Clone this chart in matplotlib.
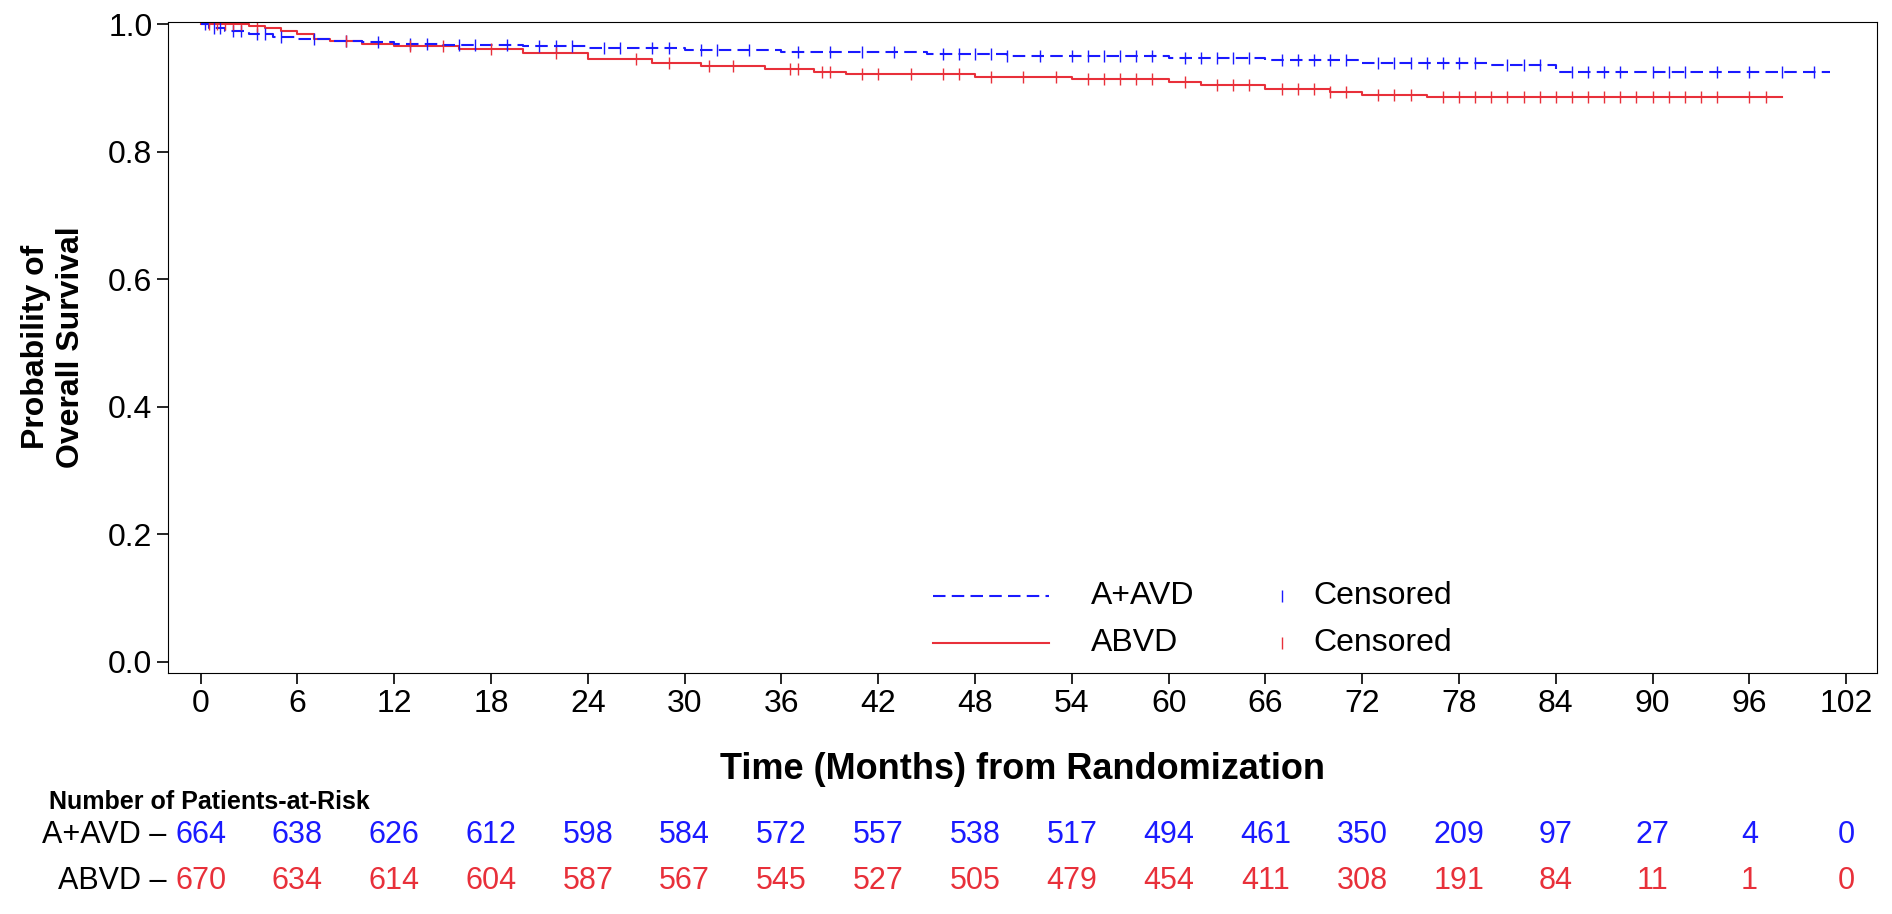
import matplotlib
matplotlib.use("Agg")
import matplotlib.pyplot as plt
from matplotlib.transforms import blended_transform_factory

plt.rcParams["font.family"] = ["Liberation Sans", "DejaVu Sans"]

BLUE = "#1a1aff"
RED = "#e8303a"

# step curves: event times (months) and survival after each step
aavd_t = [0, 0.5, 1.5, 3, 4.5, 6, 8, 10, 12, 15, 20, 24, 30, 36, 45, 50, 60, 66, 72, 80, 84, 101]
aavd_s = [1.0, 0.995, 0.99, 0.985, 0.98, 0.977, 0.974, 0.972, 0.970, 0.968, 0.966, 0.963, 0.960, 0.957, 0.954, 0.951, 0.948, 0.945, 0.940, 0.936, 0.925, 0.925]
abvd_t = [0, 3, 4, 5, 6, 7, 8, 10, 12, 16, 20, 24, 28, 31, 35, 38, 40, 48, 54, 60, 62, 66, 70, 72, 76, 98]
abvd_s = [1.0, 0.998, 0.995, 0.99, 0.985, 0.978, 0.974, 0.970, 0.966, 0.962, 0.955, 0.946, 0.940, 0.935, 0.930, 0.926, 0.922, 0.918, 0.914, 0.910, 0.905, 0.898, 0.894, 0.890, 0.886, 0.886]

aavd_cens = [0.3, 0.8, 1.2, 2, 2.5, 3.5, 4, 5, 7, 9, 11, 13, 14, 16, 17, 19, 21, 22, 23, 25, 26, 28, 29, 31, 32, 34, 37, 39, 41, 43, 46,
             47, 48, 49, 50, 52, 54, 55, 56, 57, 58, 59, 61, 62, 63, 64, 65, 67, 68, 69, 70, 71, 73, 74, 75, 76, 77, 78, 79, 81, 82,
             83, 85, 86, 87, 88, 90, 91, 92, 94, 96, 98, 100]
abvd_cens = [0.5, 1, 1.5, 2, 2.5, 3.5, 9, 13, 15, 18, 22, 27, 29, 31.5, 33, 36.5, 37, 38.5, 39, 41, 42, 44, 46, 47, 49, 51, 53, 55, 56,
             57, 58, 59, 61, 63, 64, 65, 67, 68, 69, 70, 71, 73, 74, 75, 77, 78, 79, 80, 81, 82, 83, 84, 85, 86, 87, 88, 89, 90, 91,
             92, 93, 94, 96, 97]

risk_times = list(range(0, 103, 6))
aavd_risk = [664, 638, 626, 612, 598, 584, 572, 557, 538, 517, 494, 461, 350, 209, 97, 27, 4, 0]
abvd_risk = [670, 634, 614, 604, 587, 567, 545, 527, 505, 479, 454, 411, 308, 191, 84, 11, 1, 0]


def surv_at(ts, ss, x):
    v = ss[0]
    for t, s in zip(ts, ss):
        if t <= x:
            v = s
    return v


fig = plt.figure(figsize=(18.92, 9.14), dpi=100)
ax = fig.add_axes([0.089, 0.264, 0.903, 0.712])

ax.step(abvd_t, abvd_s, where="post", color=RED, lw=1.5)
ax.step(aavd_t, aavd_s, where="post", color=BLUE, lw=1.5, ls=(0, (6, 3)))
ax.plot(aavd_cens, [surv_at(aavd_t, aavd_s, c) for c in aavd_cens], ls="none",
        marker="|", ms=8, mew=1, color=BLUE)
ax.plot(abvd_cens, [surv_at(abvd_t, abvd_s, c) for c in abvd_cens], ls="none",
        marker="|", ms=8, mew=1, color=RED)

ax.set_xlim(-2, 103.9)
ax.set_ylim(-0.017, 1.004)
ax.set_xticks(risk_times)
ax.set_yticks([0, 0.2, 0.4, 0.6, 0.8, 1.0])
ax.set_yticklabels(["0.0", "0.2", "0.4", "0.6", "0.8", "1.0"])
ax.tick_params(labelsize=23, length=8, width=1.2)
ax.set_xlabel("Time (Months) from Randomization", fontsize=26, fontweight="bold", labelpad=24)
ax.set_ylabel("Probability of\nOverall Survival", fontsize=23, fontweight="bold", labelpad=16)

# legend
ax.plot([45.4, 52.6], [0.104, 0.104], color=BLUE, lw=1.5, ls=(0, (6, 3)))
ax.plot([45.4, 52.6], [0.030, 0.030], color=RED, lw=1.5)
ax.text(55.2, 0.104, "A+AVD", fontsize=23, va="center")
ax.text(55.2, 0.030, "ABVD", fontsize=23, va="center")
ax.plot([67], [0.104], marker="|", ms=9, color=BLUE)
ax.plot([67], [0.030], marker="|", ms=9, color=RED)
ax.text(69, 0.104, "Censored", fontsize=23, va="center")
ax.text(69, 0.030, "Censored", fontsize=23, va="center")

# risk table
tr = blended_transform_factory(ax.transData, fig.transFigure)
fig.text(0.026, 0.123, "Number of Patients-at-Risk", fontsize=18, fontweight="bold", va="center")
for yy, label, vals, col in [(0.086, "A+AVD \u2013", aavd_risk, BLUE), (0.036, "ABVD \u2013", abvd_risk, RED)]:
    fig.text(0.088, yy, label, fontsize=22, ha="right", va="center")
    for t, v in zip(risk_times, vals):
        ax.text(t, yy, str(v), transform=tr, fontsize=22, ha="center", va="center", color=col, clip_on=False)

fig.savefig("out.png", dpi=100)
